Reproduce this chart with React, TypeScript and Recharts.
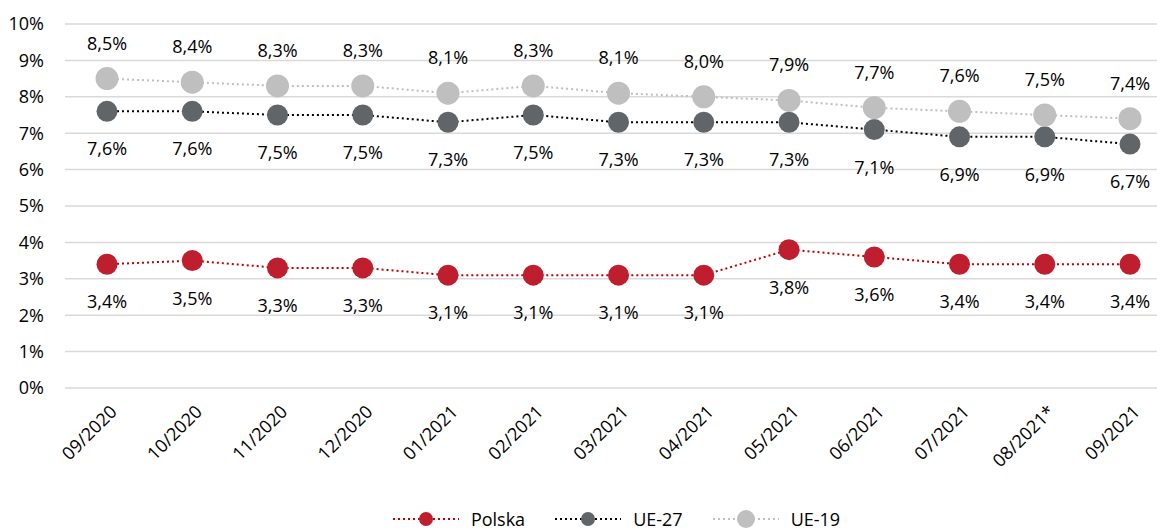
import { CartesianGrid, LabelList, Legend, Line, LineChart, XAxis, YAxis } from "recharts";

const months = [
  "09/2020", "10/2020", "11/2020", "12/2020", "01/2021", "02/2021", "03/2021",
  "04/2021", "05/2021", "06/2021", "07/2021", "08/2021*", "09/2021",
];
const polska = [3.4, 3.5, 3.3, 3.3, 3.1, 3.1, 3.1, 3.1, 3.8, 3.6, 3.4, 3.4, 3.4];
const ue27 = [7.6, 7.6, 7.5, 7.5, 7.3, 7.5, 7.3, 7.3, 7.3, 7.1, 6.9, 6.9, 6.7];
const ue19 = [8.5, 8.4, 8.3, 8.3, 8.1, 8.3, 8.1, 8.0, 7.9, 7.7, 7.6, 7.5, 7.4];
const yTicks = [0, 1, 2, 3, 4, 5, 6, 7, 8, 9, 10];

const data = months.map((m, i) => ({ month: m, polska: polska[i], ue27: ue27[i], ue19: ue19[i] }));

const FONT = "'Open Sans', sans-serif";
const SIZE = 18;
const fmt = (v: number) => v.toFixed(1).replace(".", ",") + "%";

const series = [
  { key: "polska", name: "Polska", line: "#c00000", dot: "#be1e2d", r: 10.5, label: "below" },
  { key: "ue27", name: "UE-27", line: "#000000", dot: "#5f6569", r: 10.5, label: "below" },
  { key: "ue19", name: "UE-19", line: "#bfbfbf", dot: "#bfbfbf", r: 11.5, label: "above" },
];

const XTick = (props: any) => {
  const { x, y, payload } = props;
  return (
    <text
      transform={`translate(${x + 6},${y + 12}) rotate(-45)`}
      textAnchor="end"
      dominantBaseline="central"
      fontFamily={FONT}
      fontSize={SIZE}
      fill="#000"
    >
      {payload.value}
    </text>
  );
};

const makeLabel = (dir: string) => (props: any) => {
  const { x, y, value } = props;
  const dy = dir === "above" ? -36 : 37;
  return (
    <text x={x} y={y + dy} textAnchor="middle" dominantBaseline="central" fontFamily={FONT} fontSize={SIZE} fill="#000">
      {fmt(value)}
    </text>
  );
};

const LegendContent = () => (
  <div style={{ display: "flex", justifyContent: "center", paddingLeft: 76, fontFamily: FONT, fontSize: SIZE, lineHeight: "22px" }}>
    {series.map((s, i) => (
      <div key={s.key} style={{ display: "flex", alignItems: "center", marginRight: i < 2 ? 30 : 0 }}>
        <svg width={66} height={22}>
          <line x1={0} y1={11} x2={66} y2={11} stroke={s.line} strokeWidth={2} strokeDasharray="2 3" />
          <circle cx={33} cy={11} r={s.key === "ue19" ? 9 : 7} fill={s.dot} />
        </svg>
        <span style={{ marginLeft: 12 }}>{s.name}</span>
      </div>
    ))}
  </div>
);

export default function App() {
  return (
    <div style={{ position: "absolute", left: 0, top: 0, background: "#fff" }}>
      <LineChart width={1157} height={530} data={data} margin={{ top: 24, right: 0, left: 0, bottom: 0 }}>
        <CartesianGrid vertical={false} stroke="#d9d9d9" strokeWidth={1.5} />
        <XAxis
          dataKey="month"
          axisLine={false}
          tickLine={false}
          padding={{ left: 42, right: 27 }}
          height={120}
          interval={0}
          tick={<XTick />}
        />
        <YAxis
          domain={[0, 10]}
          ticks={yTicks}
          axisLine={false}
          tickLine={false}
          tickSize={0}
          tickMargin={21}
          width={65}
          tickFormatter={(v: number) => v + "%"}
          tick={{ fontFamily: FONT, fontSize: SIZE, fill: "#000" }}
        />
        <Legend verticalAlign="bottom" height={22} content={<LegendContent />} />
        {series.map((s) => (
          <Line
            key={s.key}
            dataKey={s.key}
            name={s.name}
            type="linear"
            stroke={s.line}
            strokeWidth={2}
            strokeDasharray="2 3"
            dot={{ r: s.r, fill: s.dot, stroke: "none", strokeDasharray: "0" }}
            activeDot={false}
            isAnimationActive={false}
          >
            <LabelList dataKey={s.key} content={makeLabel(s.label)} />
          </Line>
        ))}
      </LineChart>
    </div>
  );
}
